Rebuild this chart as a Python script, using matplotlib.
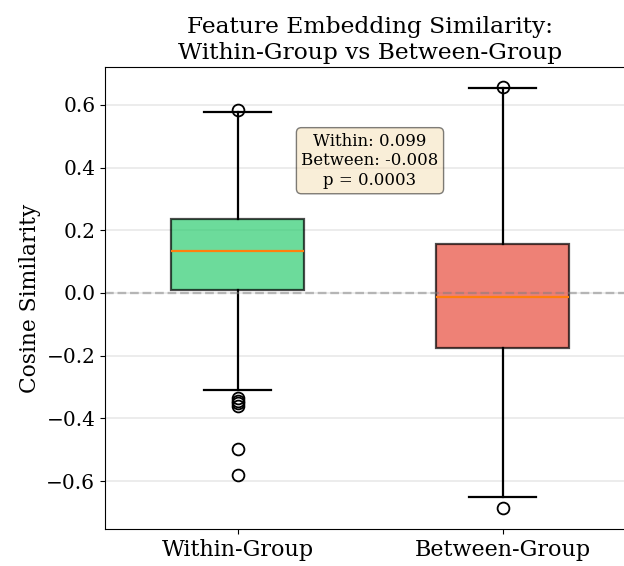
import matplotlib
matplotlib.use("Agg")
import matplotlib.pyplot as plt

plt.rcParams['font.family'] = 'DejaVu Serif'

categories = ["Within-Group", "Between-Group"]
q1 = [0.010, -0.176]
q3 = [0.236, 0.156]
medians = [0.134, -0.013]
whislo = [-0.310, -0.651]
whishi = [0.578, 0.654]
fliers = [[0.585, -0.335, -0.345, -0.352, -0.362, -0.498, -0.581],
          [0.658, -0.686]]
colors = ["#2ecc71", "#e74c3c"]
annot = "Within: 0.099\nBetween: -0.008\np = 0.0003"

stats = []
for i, name in enumerate(categories):
    stats.append(dict(label=name, q1=q1[i], q3=q3[i], med=medians[i],
                      whislo=whislo[i], whishi=whishi[i], fliers=fliers[i]))

fig = plt.figure(figsize=(6.24, 5.66), dpi=100)
ax = fig.add_axes([105/624, 1-529/566, 530/624, 462/566])

bp = ax.bxp(stats, patch_artist=True, widths=0.5,
            boxprops=dict(edgecolor='black', linewidth=1.6),
            whiskerprops=dict(linewidth=1.6),
            capprops=dict(linewidth=1.6),
            medianprops=dict(color='#ff7f0e', linewidth=1.6),
            flierprops=dict(marker='o', markersize=8.5, markerfacecolor='none',
                            markeredgecolor='black', markeredgewidth=1.3))
for patch, c in zip(bp['boxes'], colors):
    patch.set_facecolor(c)
    patch.set_alpha(0.7)

ax.axhline(0, color='gray', linestyle='--', alpha=0.5, linewidth=1.7)
ax.yaxis.grid(True, alpha=0.3, linewidth=1.1)
ax.set_axisbelow(True)
ax.set_xlim(0.5, 2.5)
ax.set_ylim(-0.753, 0.721)
ax.set_ylabel("Cosine Similarity", fontsize=15.7)
ax.set_title("Feature Embedding Similarity:\nWithin-Group vs Between-Group", fontsize=16.8)
ax.tick_params(axis='x', labelsize=16)
ax.tick_params(axis='y', labelsize=14.5)
ax.text(0.5, 0.858, annot, transform=ax.transAxes, ha='center', va='top',
        fontsize=11.9, bbox=dict(boxstyle='round', facecolor='wheat', alpha=0.5))

fig.savefig("out.png", dpi=100)
